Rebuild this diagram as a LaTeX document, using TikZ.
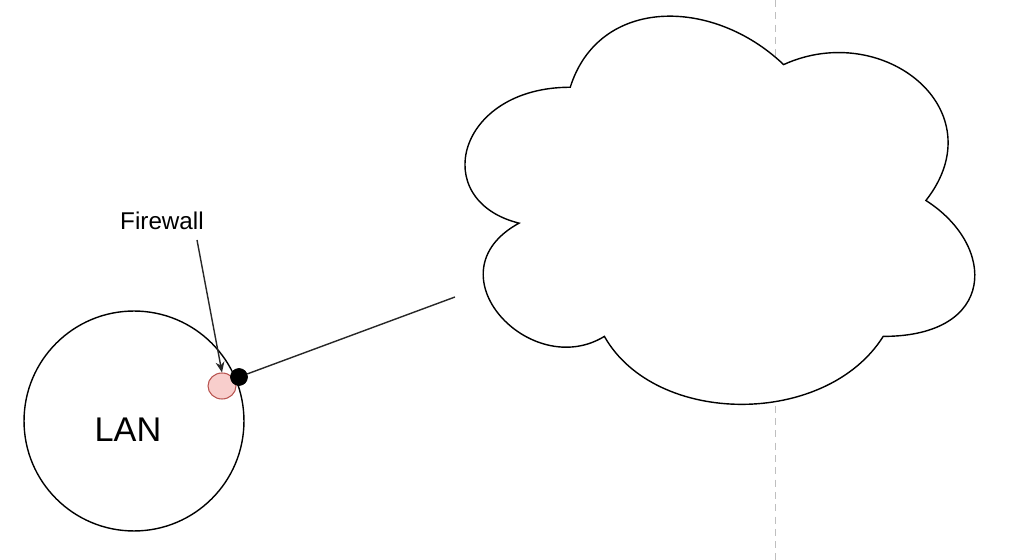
\documentclass[tikz,border=0pt]{standalone}
\usepackage{fontspec}
\setmainfont{Liberation Sans}
\usetikzlibrary{shapes.geometric, arrows.meta, positioning}
\definecolor{fwfill}{HTML}{F8CECC}
\definecolor{fwline}{HTML}{B85450}

\begin{document}
\begin{tikzpicture}[
    x=0.02cm, y=-0.02cm,
    zone/.style={draw, circle, line width=0.8pt, minimum size=4.4cm, inner sep=0pt},
    zone text/.style={font=\fontsize{19.5pt}{23pt}\selectfont},
    fwall/.style={draw=fwline, fill=fwfill, ellipse, line width=0.6pt, minimum width=0.56cm, minimum height=0.52cm, inner sep=0pt},
    port/.style={draw, circle, fill=black, inner sep=0pt, minimum size=0.34cm},
    label text/.style={font=\fontsize{13.8pt}{16pt}\selectfont, inner sep=2pt},
    link/.style={line width=0.8pt, black!85},
    guide/.style={draw=black!25, line width=0.6pt, dash pattern=on 4pt off 3pt}
]
\useasboundingbox (0,0) rectangle (1025,560);

% Guide line (hidden behind the cloud)
\draw[guide] (775.5,0) -- (775.5,560);

% Cloud
\draw[line width=0.8pt, fill=white]
    (570.25,87.25)
    .. controls (456.45,87.25) and (428,200.5) .. (519.04,223.15)
    .. controls (428,272.98) and (530.42,381.7) .. (604.39,336.4)
    .. controls (655.6,427) and (826.3,427) .. (883.2,336.4)
    .. controls (997,336.4) and (997,245.8) .. (925.9,200.5)
    .. controls (997,109.9) and (883.2,19.3) .. (783.6,64.6)
    .. controls (712.5,-3.35) and (598.7,-3.35) .. cycle;
\coordinate (cloudin) at (455,297);

% LAN
\node[zone] (lan) at (134,421) {};
\node[zone text] (lantxt) at (128,430) {LAN};
\node[fwall] (fw) at (222,386) {};
\node[port] (gw) at (239,377) {};

% Label
\node[label text] (fwlbl) at (162,221) {Firewall};
\coordinate (fwtail) at (197,240);

% Links
\draw[link, -{Stealth[length=6pt, width=5pt]}] (fwtail) -- (fw.north);
\draw[link] (gw) -- (cloudin);

\end{tikzpicture}
\end{document}
